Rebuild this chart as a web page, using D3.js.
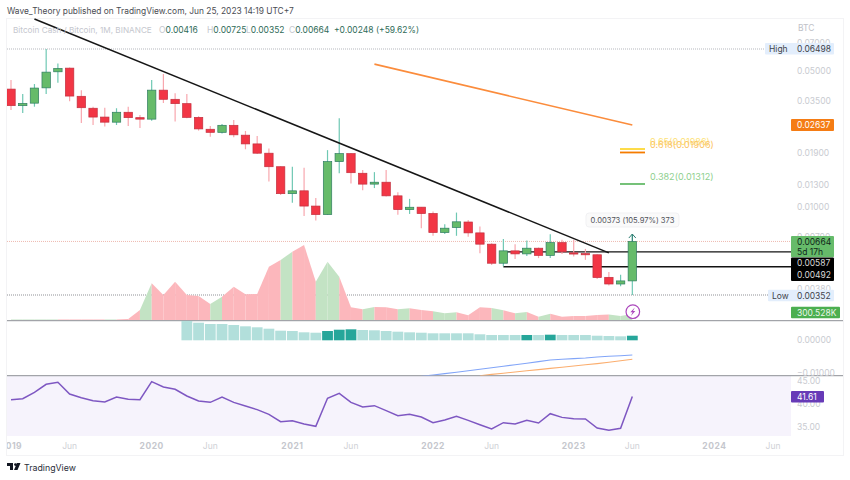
<!DOCTYPE html>
<html>
<head>
<meta charset="utf-8">
<script src="https://cdn.jsdelivr.net/npm/d3@7"></script>
<style>
  html, body { margin: 0; padding: 0; background: #fff; }
  svg { display: block; font-family: Inter, "Liberation Sans", sans-serif; }
</style>
</head>
<body>
<svg></svg>
<script>
const width = 850;
const height = 480;

// monthly BCH/BTC candles, Jan 2019 to Jun 2023
const open = [0.0404,0.0332,0.0342,0.0410,0.0496,0.0518,0.0371,0.0322,0.0290,0.0273,0.0307,0.0288,
  0.0283,0.0399,0.0358,0.0340,0.0289,0.0251,0.0242,0.0263,0.0234,0.0211,0.0189,0.0161,
  0.0117,0.0121,0.0101,0.00913,0.0171,0.0188,0.0149,0.0131,0.0134,0.0114,0.00968,0.00997,
  0.00925,0.00738,0.00783,0.00836,0.00735,0.00643,0.00513,0.00594,0.00573,0.00613,0.00563,0.00655,
  0.00580,0.00575,0.00567,0.00434,0.00401,0.00416];
const high = [0.0450,0.0381,0.0429,0.0650,0.0548,0.0522,0.0399,0.0328,0.0324,0.0322,0.0328,0.0297,
  0.0450,0.0483,0.0385,0.0381,0.0293,0.0261,0.0267,0.0280,0.0246,0.0232,0.0200,0.0162,
  0.0161,0.0159,0.0111,0.0196,0.0286,0.0189,0.0155,0.0151,0.0155,0.0119,0.0110,0.0100,
  0.00948,0.00815,0.00935,0.00857,0.00793,0.00650,0.00683,0.00643,0.00672,0.00618,0.00724,0.00677,
  0.00677,0.00608,0.00571,0.00462,0.00448,0.00725];
const low = [0.0315,0.0304,0.0328,0.0381,0.0435,0.0350,0.0270,0.0264,0.0259,0.0264,0.0261,0.0255,
  0.0278,0.0343,0.0275,0.0286,0.0247,0.0230,0.0239,0.0228,0.0198,0.0187,0.0135,0.0115,
  0.0105,0.00899,0.0085,0.0091,0.0149,0.0132,0.0122,0.0125,0.0113,0.0091,0.0092,0.00777,
  0.0071,0.00725,0.0071,0.00703,0.00578,0.00503,0.00495,0.00539,0.00559,0.00545,0.00545,0.00573,
  0.00556,0.00534,0.00425,0.00394,0.00390,0.00352];
const close = [0.0332,0.0341,0.0409,0.0494,0.0516,0.0372,0.0324,0.0290,0.0273,0.0307,0.0288,0.0283,
  0.0399,0.0358,0.0340,0.0289,0.0252,0.0242,0.0263,0.0235,0.0211,0.0189,0.0161,0.0117,
  0.0121,0.0101,0.00913,0.0171,0.0188,0.0150,0.0131,0.0134,0.0114,0.00968,0.00996,0.00924,
  0.00738,0.00777,0.00838,0.00735,0.00643,0.00513,0.00594,0.00573,0.00613,0.00563,0.00655,0.00587,
  0.00572,0.00567,0.00433,0.00401,0.00416,0.00664];
// volume, thousands
const volume = [25,25,25,25,25,25,25,25,25,25,50,500,
  1835,1250,1915,1250,1200,800,1165,1665,1285,1300,2665,3000,
  3415,3750,1915,2915,2165,635,535,650,635,535,585,500,
  435,335,385,235,635,600,485,335,400,165,315,165,
  200,200,250,275,200,300.5];

// macd pane
const histStart = "2020-04";
const hist = [0.00594,0.00533,0.00494,0.00494,0.00464,0.00424,0.00394,0.00352,0.00291,
  0.00282,0.00242,0.0023,0.00282,0.00321,0.00333,0.00312,0.00303,0.00282,0.00261,0.00242,0.0023,
  0.00212,0.00212,0.00212,0.00212,0.00182,0.00161,0.00161,0.00161,0.00161,0.00161,0.0017,0.00161,
  0.00161,0.00161,0.00139,0.0013,0.00121,0.00139];
const histDark = ["2021-04","2021-05","2021-06","2022-09","2022-11","2023-06"];
const macdStart = "2021-12";
const macdLine = [-0.01091,-0.01052,-0.01009,-0.00967,-0.00924,-0.00879,-0.0083,-0.00785,-0.00739,
  -0.00694,-0.00645,-0.00597,-0.00573,-0.00555,-0.00536,-0.00506,-0.00485,-0.00467,-0.00445];
const signalStart = "2022-05";
const signalLine = [-0.01073,-0.01033,-0.00997,-0.00961,-0.00924,-0.00888,-0.00852,-0.00815,
  -0.00779,-0.00742,-0.00706,-0.00664,-0.00621,-0.00576];

const rsi = [40.92,41.13,42.52,44.27,44.71,42.16,41.35,40.70,40.40,41.50,40.99,40.92,
  44.85,43.69,43.18,41.72,40.62,40.33,41.50,40.33,39.53,38.73,37.71,36.10,
  36.32,35.59,35.08,41.21,42.30,40.33,39.31,39.60,38.51,37.41,37.71,37.12,
  35.88,36.47,37.27,36.39,35.44,34.50,35.88,35.59,36.39,35.81,37.85,37.04,
  36.76,36.68,34.72,34.21,34.65,41.61];

const priceTicks = [0.07,0.05,0.035,0.026,0.019,0.013,0.01,0.007,0.0038];
const macdTicks = [0,-0.01];
const rsiTicks = [45,40,35];
const xTickMonths = ["2019-01","2019-06","2020-01","2020-06","2021-01","2021-06","2022-01","2022-06","2023-01","2023-06","2024-01","2024-06"];
const xTickLabels = ["2019","Jun","2020","Jun","2021","Jun","2022","Jun","2023","Jun","2024","Jun"];

// drawings on the price pane
const trendMonths = ["2019-03","2023-04"];
const trendPrices = [0.0927,0.00580];
const orangeMonths = ["2021-08","2023-06"];
const orangePrices = [0.0543,0.02637];
const levelPrices = [0.00587,0.00492];
const fibLevels = ["0.65","0.618","0.382"];
const fibPrices = [0.01986,0.01906,0.01312];
const fibColors = ["#fdd835","#f57c00","#66bb6a"];
const fibTextColors = ["#fde27a","#fbc35e","#8fd08f"];

const paneLeft = 7;
const paneRight = 791;
const frameRight = 843;

const months = d3.utcMonths(new Date(Date.UTC(2019, 0, 1)), new Date(Date.UTC(2024, 6, 1)))
  .map(d3.utcFormat("%Y-%m"));
const candleMonths = months.slice(0, open.length);

const xScale = d3.scalePoint().domain(months).range([11, 773]);
const yPrice = d3.scaleLog().domain([0.00352, 0.06498]).range([295, 49]);
const yVolume = d3.scaleLinear().domain([0, 4000]).range([320, 240]);
const yMacd = d3.scaleLinear().domain([-0.01, 0]).range([373.3, 340.3]);
const yRsi = d3.scaleLinear().domain([35, 45]).range([426.7, 381]);

const svg = d3.select("svg").attr("width", width).attr("height", height);

const defs = svg.append("defs");
const addClip = (id, y, h) => defs.append("clipPath").attr("id", id)
  .append("rect").attr("x", paneLeft).attr("y", y).attr("width", paneRight - paneLeft).attr("height", h);
addClip("clipPrice", 18, 302);
addClip("clipMacd", 321, 54.6);
addClip("clipAxis", 436, 19);

// frame and panes
svg.append("rect").attr("x", paneLeft - 0.5).attr("y", 18.5)
  .attr("width", frameRight - paneLeft + 1).attr("height", 437)
  .attr("fill", "none").attr("stroke", "#f3f3f5");
svg.append("rect").attr("x", paneLeft).attr("y", 376)
  .attr("width", paneRight - paneLeft).attr("height", 60).attr("fill", "#f6f3fc");
svg.selectAll(".sep").data([320.7, 375.7]).enter().append("line")
  .attr("x1", paneLeft).attr("x2", frameRight).attr("y1", d => d).attr("y2", d => d)
  .attr("stroke", "#8d8f96").attr("stroke-width", 1);

const price = svg.append("g").attr("clip-path", "url(#clipPrice)");

// dotted reference lines
price.selectAll(".ref").data([
  {v: 0.06498, c: "#b5b7bd"}, {v: 0.00664, c: "#efb9b0"}, {v: 0.00352, c: "#8f9196"}
]).enter().append("line")
  .attr("x1", paneLeft).attr("x2", paneRight)
  .attr("y1", d => yPrice(d.v)).attr("y2", d => yPrice(d.v))
  .attr("stroke", d => d.c).attr("stroke-dasharray", "1 1");

// volume area, one segment per month coloured by the candle
const volumeArea = d3.area()
  .x(i => xScale(candleMonths[i]))
  .y0(yVolume(0))
  .y1(i => yVolume(volume[i]));
price.selectAll(".vol").data(d3.range(1, volume.length)).enter().append("path")
  .attr("d", i => volumeArea([i - 1, i]))
  .attr("fill", i => close[i] >= open[i] ? "#c3e3c4" : "#fcb7bc");

// horizontal levels sit behind the candles
price.selectAll(".level").data(levelPrices).enter().append("line")
  .attr("x1", xScale("2022-07")).attr("x2", paneRight)
  .attr("y1", d => yPrice(d)).attr("y2", d => yPrice(d))
  .attr("stroke", "#131313").attr("stroke-width", 1.3);

// candles
const candles = price.selectAll(".candle").data(candleMonths).enter().append("g");
candles.append("line")
  .attr("x1", d => xScale(d)).attr("x2", d => xScale(d))
  .attr("y1", (d, i) => yPrice(high[i])).attr("y2", (d, i) => yPrice(low[i]))
  .attr("stroke", (d, i) => close[i] >= open[i] ? "#6fc8b3" : "#f8a7ae").attr("stroke-width", 1.2);
candles.append("rect")
  .attr("x", d => xScale(d) - 4.2).attr("width", 8.4)
  .attr("y", (d, i) => yPrice(Math.max(open[i], close[i])))
  .attr("height", (d, i) => Math.max(1.2, Math.abs(yPrice(open[i]) - yPrice(close[i]))))
  .attr("fill", (d, i) => close[i] >= open[i] ? "#66bb6a" : "#f23645")
  .attr("stroke", (d, i) => close[i] >= open[i] ? "#2f7d62" : "#c2303f")
  .attr("stroke-width", 0.7);

// trend lines
const pairLine = (ms, ps) => d3.line().x(i => xScale(ms[i])).y(i => yPrice(ps[i]))([0, 1]);
price.append("path").attr("d", pairLine(trendMonths, trendPrices))
  .attr("stroke", "#161616").attr("stroke-width", 1.5).attr("fill", "none");
price.append("path").attr("d", pairLine(orangeMonths, orangePrices))
  .attr("stroke", "#fb8c3c").attr("stroke-width", 1.6).attr("fill", "none");

// fib levels
svg.selectAll(".fib").data(fibPrices).enter().append("line")
  .attr("x1", 620).attr("x2", 645)
  .attr("y1", d => yPrice(d)).attr("y2", d => yPrice(d))
  .attr("stroke", (d, i) => fibColors[i]).attr("stroke-width", 1.8);
svg.selectAll(".fibText").data(fibPrices).enter().append("text")
  .attr("x", 650).attr("y", d => yPrice(d) - 4)
  .attr("font-size", 9.1)
  .attr("fill", (d, i) => fibTextColors[i])
  .text((d, i) => `${fibLevels[i]}(${d.toFixed(5)})`);

// measure label and arrow over the last candle
const lastX = xScale("2023-06");
svg.append("rect").attr("x", 586).attr("y", 213).attr("width", 93).attr("height", 14).attr("rx", 3)
  .attr("fill", "#fafafa").attr("stroke", "#f1f1f3");
svg.append("text").attr("x", 632.5).attr("y", 223).attr("text-anchor", "middle")
  .attr("font-size", 7.6).attr("fill", "#51535a").text("0.00373 (105.97%) 373");
svg.append("path")
  .attr("d", `M${lastX},${yPrice(0.00664)}V${yPrice(0.00725)}M${lastX - 3.5},${yPrice(0.00725) + 4}L${lastX},${yPrice(0.00725)}L${lastX + 3.5},${yPrice(0.00725) + 4}`)
  .attr("fill", "none").attr("stroke", "#2f7d72").attr("stroke-width", 1);

// earnings style marker
svg.append("circle").attr("cx", lastX + 0.5).attr("cy", 311.7).attr("r", 6.8)
  .attr("fill", "#fff").attr("stroke", "#ab47bc").attr("stroke-width", 1.2);
svg.append("path")
  .attr("d", `M${lastX + 2.5},307.5L${lastX - 2},312.3H${lastX + 0.3}L${lastX - 1.5},316L${lastX + 3},311H${lastX + 0.7}Z`)
  .attr("fill", "#ab47bc");

// macd pane
const histMonths = months.slice(months.indexOf(histStart), months.indexOf(histStart) + hist.length);
const macd = svg.append("g").attr("clip-path", "url(#clipMacd)");
macd.selectAll(".hist").data(hist).enter().append("rect")
  .attr("x", (d, i) => xScale(histMonths[i]) - 5.4).attr("width", 10.8)
  .attr("y", d => yMacd(d)).attr("height", d => yMacd(0) - yMacd(d))
  .attr("fill", (d, i) => histDark.includes(histMonths[i]) ? "#26a69a" : "#b2dfdb");
const drawMacdLine = (values, start, color) => {
  const from = months.indexOf(start);
  macd.append("path")
    .attr("d", d3.line().x((d, i) => xScale(months[from + i])).y(d => yMacd(d))(values))
    .attr("fill", "none").attr("stroke", color).attr("stroke-width", 1.1);
};
drawMacdLine(macdLine, macdStart, "#82a5f8");
drawMacdLine(signalLine, signalStart, "#fbae6f");

// rsi pane
svg.append("path")
  .attr("d", d3.line().x((d, i) => xScale(candleMonths[i])).y(d => yRsi(d))(rsi))
  .attr("fill", "none").attr("stroke", "#7e57c2").attr("stroke-width", 1.5);

// right axis ticks
const axisText = (sel, scale, fmt) => sel.append("text")
  .attr("x", 797).attr("y", d => scale(d)).attr("dy", "0.36em")
  .attr("font-size", 8.5).attr("fill", "#c9cbd1").text(fmt);
axisText(svg.selectAll(".pt").data(priceTicks).enter(), yPrice, d => d.toFixed(5));
axisText(svg.selectAll(".mt").data(macdTicks).enter(), yMacd, d => d3.format(".5f")(d).replace("-", "\u2212"));
axisText(svg.selectAll(".rt").data(rsiTicks).enter(), yRsi, d => d.toFixed(2));
svg.append("text").attr("x", 798).attr("y", 31).attr("font-size", 8.5).attr("fill", "#c0c2c8").text("BTC");

// time axis
svg.append("g").attr("clip-path", "url(#clipAxis)")
  .selectAll("text").data(xTickMonths).enter().append("text")
  .attr("x", d => xScale(d)).attr("y", 449).attr("text-anchor", "middle")
  .attr("font-size", 8.5)
  .attr("font-weight", (d, i) => xTickLabels[i] === "Jun" ? 400 : 700)
  .attr("letter-spacing", (d, i) => xTickLabels[i] === "Jun" ? 0 : 0.5)
  .attr("fill", (d, i) => xTickLabels[i] === "Jun" ? "#cfd1d6" : "#c5c7cd")
  .text((d, i) => xTickLabels[i]);

// axis price labels
const tag = (x, y, w, h, fill) => svg.append("rect").attr("x", x).attr("y", y)
  .attr("width", w).attr("height", h).attr("rx", 1).attr("fill", fill);
const tagText = (x, y, s, fill, size) => svg.append("text").attr("x", x).attr("y", y).attr("dy", "0.36em")
  .attr("font-size", size || 8.5).attr("fill", fill).text(s);

tag(765, 43, 69, 11.4, "#e3eefc");
tagText(769, 48.7, "High", "#41434a");
tagText(797, 48.7, "0.06498", "#41434a");
tag(768, 289.7, 66, 11.6, "#e3eefc");
tagText(772, 295.5, "Low", "#41434a");
tagText(797, 295.5, "0.00352", "#41434a");
tag(791, 119, 43, 12, "#f57c14");
tagText(797, 125, "0.02637", "#fff");
tag(791, 236, 43, 21.3, "#66bb6a");
tagText(797, 242, "0.00664", "#10281a");
tagText(797, 251.7, "5d 17h", "#10281a");
tag(791, 257.6, 43, 23.4, "#000");
tagText(797, 263.4, "0.00587", "#d8d8d8");
tagText(797, 275.4, "0.00492", "#d8d8d8");
tag(791, 306.7, 49, 11.6, "#4caf50");
tagText(797, 312.5, "300.528K", "#eaf6ea");
tag(791, 391, 33, 11.4, "#673ab7");
tagText(797, 396.7, "41.61", "#fff");

// header
svg.append("text").attr("x", 7).attr("y", 14).attr("font-size", 8.4).attr("fill", "#4a4c52")
  .text("Wave_Theory published on TradingView.com, Jun 25, 2023 14:19 UTC+7");
svg.append("text").attr("x", 13).attr("y", 33).attr("font-size", 8.2).attr("fill", "#c5c7ce")
  .text("Bitcoin Cash / Bitcoin, 1M, BINANCE");
const ohlcLetters = ["O", "H", "L", "C"];
const ohlcValues = ["0.00416", "0.00725", "0.00352", "0.00664"];
const ohlcX = [159, 207, 246, 289];
ohlcLetters.forEach((l, i) => {
  const t = svg.append("text").attr("x", ohlcX[i]).attr("y", 33).attr("font-size", 8.5);
  t.append("tspan").attr("fill", "#c5c7ce").text(l);
  t.append("tspan").attr("fill", "#2f6b58").text(ohlcValues[i]);
});
svg.append("text").attr("x", 334).attr("y", 33).attr("font-size", 8.5).attr("fill", "#2f6b58")
  .text("+0.00248 (+59.62%)");

// footer logo
svg.append("path").attr("d", "M7,463H13V470H10V466H7ZM17,463H20.5L17.5,470H14Z").attr("fill", "#131722");
svg.append("circle").attr("cx", 15.5).attr("cy", 464.6).attr("r", 1.4).attr("fill", "#131722");
svg.append("text").attr("x", 24).attr("y", 471).attr("font-size", 8.8).attr("fill", "#2a2e39").text("TradingView");
</script>
</body>
</html>
